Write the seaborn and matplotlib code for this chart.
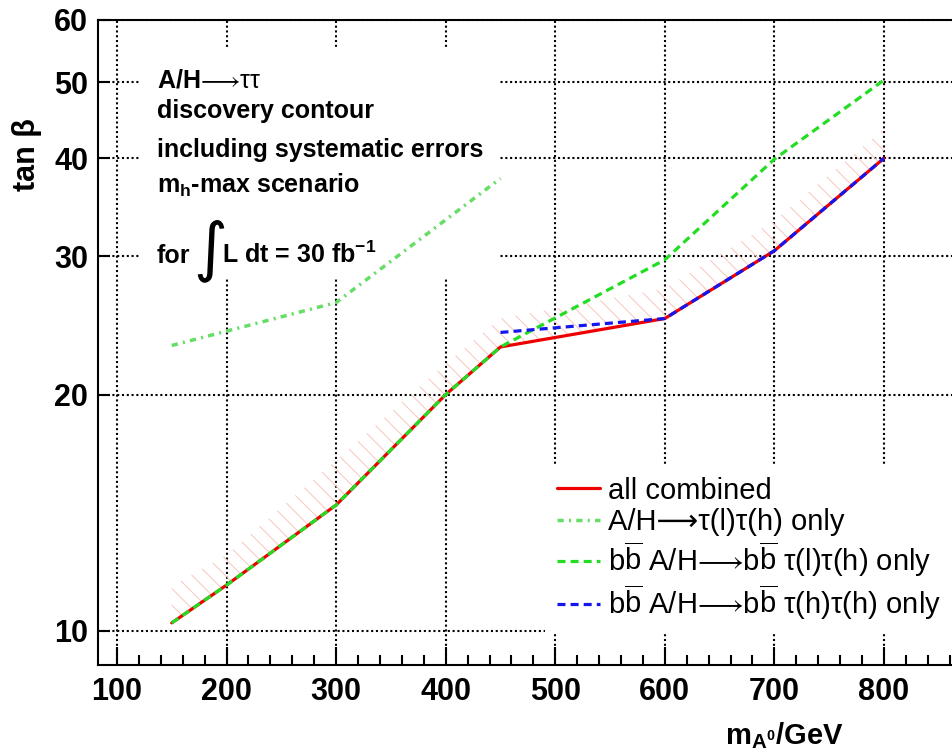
import matplotlib
matplotlib.use("Agg")
import matplotlib.pyplot as plt
from matplotlib.patches import Rectangle
from matplotlib.ticker import FixedLocator, FixedFormatter, MultipleLocator, NullLocator
import pandas as pd
import seaborn as sns

# ---- discovery contours in the (m_A, tan beta) plane ----
mass_comb = [150, 200, 300, 400, 450, 600, 700, 800]
tanb_comb = [10.24, 11.44, 14.47, 20.0, 23.0, 25.0, 30.5, 40.0]
tanb_band_upper = [11.4, 12.5, 16.5, 21.9, 25.0, 27.3, 33.3, 43.6]

mass_tautau_lh = [150, 300, 450]
tanb_tautau_lh = [23.1, 26.2, 37.7]

mass_bb_lh = [150, 200, 300, 400, 450, 600, 700, 800]
tanb_bb_lh = [10.24, 11.44, 14.47, 20.0, 23.0, 29.7, 39.9, 50.3]

mass_bb_hh = [450, 600, 700, 800]
tanb_bb_hh = [24.0, 25.0, 30.5, 40.0]

x_ticks = [100, 200, 300, 400, 500, 600, 700, 800]
y_ticks = [10, 20, 30, 40, 50, 60]
y_tick_labels = ["10", "20", "30", "40", "50", "60"]

labels = [
    "all combined",
    "A/H⟶τ(l)τ(h) only",
    r"b$\overline{\mathrm{b}}$ A/H$⟶$b$\overline{\mathrm{b}}$ τ(l)τ(h) only",
    r"b$\overline{\mathrm{b}}$ A/H$⟶$b$\overline{\mathrm{b}}$ τ(h)τ(h) only",
]

sns.set_theme(style="white")
plt.rcParams["font.family"] = ["Liberation Sans", "DejaVu Sans"]
plt.rcParams["mathtext.fontset"] = "custom"
plt.rcParams["mathtext.rm"] = "Liberation Sans"
plt.rcParams["mathtext.it"] = "Liberation Sans:italic"
plt.rcParams["mathtext.bf"] = "Liberation Sans:bold"
plt.rcParams["mathtext.sf"] = "Liberation Sans"
plt.rcParams["hatch.linewidth"] = 0.7
plt.rcParams["hatch.color"] = "#f6c6be"
for key in ["text.color", "axes.labelcolor", "xtick.color", "ytick.color",
            "axes.edgecolor"]:
    plt.rcParams[key] = "black"

fig = plt.figure(figsize=(9.52, 7.54), dpi=100)
ax = fig.add_axes([98 / 952, 89 / 754, 854 / 952, 645 / 754])
ax.set_yscale("log")
ax.set_xlim(82.66, 862.1)
ax.set_ylim(9.05, 60)

# hatched uncertainty band above the combined contour
ax.fill_between(mass_comb, tanb_comb, tanb_band_upper, facecolor="none",
                edgecolor="#f6c6be", hatch="\\\\", linewidth=0, zorder=1.6)

df_comb = pd.DataFrame({"m": mass_comb, "tb": tanb_comb})
df_lh = pd.DataFrame({"m": mass_tautau_lh, "tb": tanb_tautau_lh})
df_bblh = pd.DataFrame({"m": mass_bb_lh, "tb": tanb_bb_lh})
df_bbhh = pd.DataFrame({"m": mass_bb_hh, "tb": tanb_bb_hh})

sns.lineplot(data=df_comb, x="m", y="tb", ax=ax, color="#ee0000", lw=2.3,
             linestyle="-", label=labels[0], zorder=3)
sns.lineplot(data=df_lh, x="m", y="tb", ax=ax, color="#66dd66", lw=2.5,
             linestyle=(0, (1.8, 1.5, 0.6, 1.5)), label=labels[1], zorder=3)
sns.lineplot(data=df_bblh, x="m", y="tb", ax=ax, color="#22dd22", lw=2.3,
             linestyle=(0, (2.5, 1.6)), label=labels[2], zorder=3.1)
sns.lineplot(data=df_bbhh, x="m", y="tb", ax=ax, color="#1515ee", lw=2.3,
             linestyle=(0, (2.5, 1.6)), label=labels[3], zorder=3.2)

# axes, ticks and grid
ax.xaxis.set_major_locator(FixedLocator(x_ticks))
ax.xaxis.set_minor_locator(MultipleLocator(20))
ax.yaxis.set_major_locator(FixedLocator(y_ticks))
ax.yaxis.set_major_formatter(FixedFormatter(y_tick_labels))
ax.yaxis.set_minor_locator(NullLocator())
ax.tick_params(axis="x", which="major", direction="in", length=13, width=1.5,
               labelsize=22, pad=9, bottom=True, top=False, colors="black")
ax.tick_params(axis="x", which="minor", direction="in", length=7.2, width=1.5,
               bottom=True, top=False, colors="black")
ax.tick_params(axis="y", which="major", direction="in", length=8.6, width=1.5,
               labelsize=22, pad=7, left=True, right=False, colors="black")
for lab in ax.get_xticklabels() + ax.get_yticklabels():
    lab.set_fontweight("bold")

ax.grid(True, which="major", color="black", linestyle=(0, (1, 1.3)), linewidth=1.5)
ax.set_axisbelow(True)
for side in ["left", "bottom", "top"]:
    ax.spines[side].set_linewidth(1.5)
    ax.spines[side].set_color("black")
ax.spines["right"].set_visible(False)

ax.set_xlabel(r"$\mathbf{m}_{\mathbf{A}^{\mathbf{0}}}$/GeV", fontsize=21,
              fontweight="bold", ha="right", color="black")
ax.xaxis.set_label_coords(0.8735, -0.085)
ax.set_ylabel("tan β", fontsize=22, fontweight="bold", color="black")
ax.yaxis.set_label_coords(-0.066, 0.792)

# white panel behind the annotation text
ax.add_patch(Rectangle((0.049, 0.6016), 0.422, 0.357, transform=ax.transAxes,
                       facecolor="white", edgecolor="none", zorder=1))
tx = 0.0691
ax.text(tx, 0.8946, r"A/H$⟶\mathrm{\tau\tau}$", transform=ax.transAxes,
        fontsize=18, fontweight="bold", va="baseline", zorder=4)
ax.text(tx, 0.848, "discovery contour", transform=ax.transAxes,
        fontsize=18, fontweight="bold", va="baseline", zorder=4)
ax.text(tx, 0.7876, "including systematic errors", transform=ax.transAxes,
        fontsize=18, fontweight="bold", va="baseline", zorder=4)
ax.text(tx, 0.7318, r"m$_{\mathbf{h}}$-max scenario", transform=ax.transAxes,
        fontsize=18, fontweight="bold", va="baseline", zorder=4)
ax.text(tx, 0.6233, "for", transform=ax.transAxes,
        fontsize=18, fontweight="bold", va="baseline", zorder=4)
ax.text(0.1120, 0.6150, "∫", transform=ax.transAxes, family="DejaVu Sans",
        fontsize=47, va="baseline", zorder=4)
ax.text(0.1450, 0.6233, r"L dt = 30 fb$^{\mathbf{-1}}$", transform=ax.transAxes,
        fontsize=18, fontweight="bold", va="baseline", zorder=4)

leg = ax.legend(loc="upper left", bbox_to_anchor=(545 / 952, 1 - 465 / 754),
                bbox_transform=fig.transFigure, fontsize=21, frameon=True,
                fancybox=False, framealpha=1.0, facecolor="white",
                edgecolor="white", borderpad=0.4, borderaxespad=0,
                handlelength=1.48, handletextpad=0.28, labelspacing=0.13)
leg.get_frame().set_linewidth(0)
for t in leg.get_texts():
    t.set_color("black")

fig.savefig("out.png", dpi=100)
